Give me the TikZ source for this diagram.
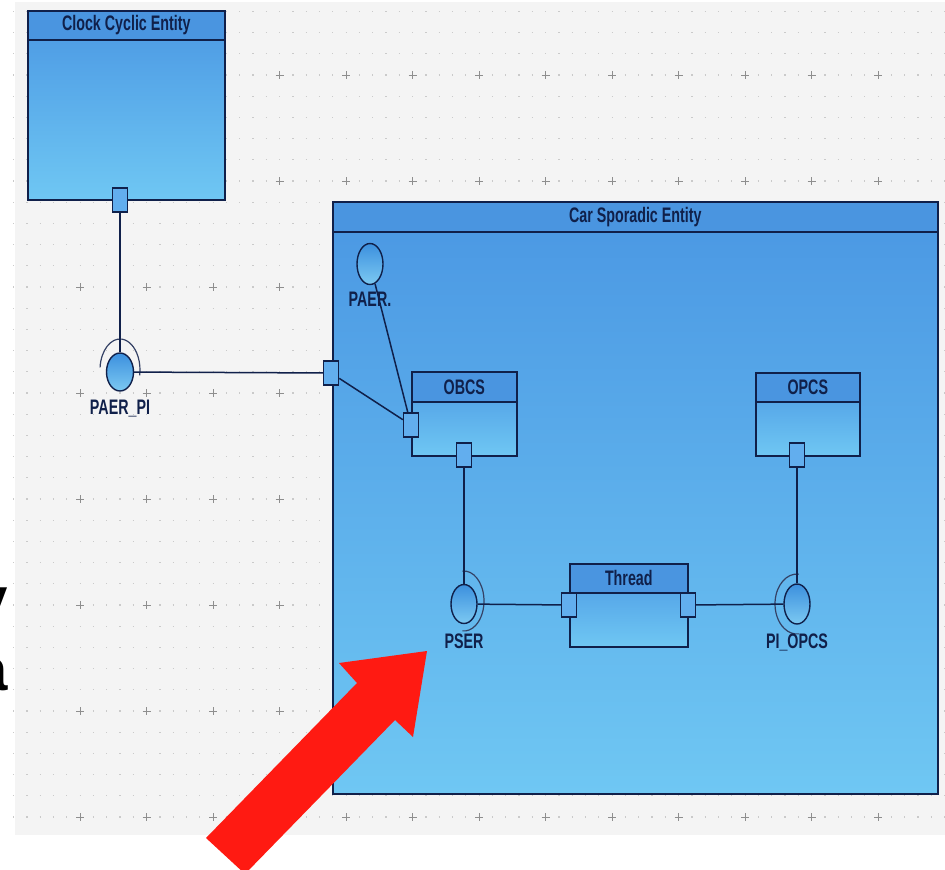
\documentclass[tikz,border=0pt]{standalone}
\usepackage{fontspec}
\setmainfont{Liberation Sans}
\newfontfamily\umlfont[FakeStretch=0.68]{Liberation Sans}
\usepackage{xcolor}
\usetikzlibrary{shapes.geometric,positioning}

\definecolor{gridbg}{HTML}{F4F4F4}
\definecolor{griddot}{HTML}{CACACA}
\definecolor{gridcross}{HTML}{8E8E8E}
\definecolor{umlline}{HTML}{10204A}
\definecolor{umlhead}{HTML}{4A95E0}
\definecolor{umltop}{HTML}{4A97E3}
\definecolor{umlbottom}{HTML}{6FC7F3}
\definecolor{portfill}{HTML}{62AEEE}
\definecolor{ifacetop}{HTML}{3C90DE}
\definecolor{ifacebottom}{HTML}{7CC9F2}
\definecolor{markred}{HTML}{FF1A12}

\begin{document}
\begin{tikzpicture}[x=1pt, y=-1pt,
    entity/.style={rectangle, draw=umlline, line width=1.6pt, top color=umltop, bottom color=umlbottom, inner sep=0pt},
    header/.style={rectangle, draw=umlline, line width=1.6pt, fill=umlhead, inner sep=0pt, font=\umlfont\bfseries\fontsize{21}{21}\selectfont, text=umlline},
    port/.style={rectangle, draw=umlline, line width=1.4pt, fill=portfill, minimum width=15pt, minimum height=24pt, inner sep=0pt},
    iface/.style={ellipse, draw=umlline, line width=1.4pt, top color=ifacetop, bottom color=ifacebottom, minimum width=26pt, minimum height=39pt, inner sep=0pt},
    lbl/.style={font=\umlfont\bfseries\fontsize{21}{21}\selectfont, text=umlline, inner sep=0pt},
    socket/.style={draw=umlline!85, line width=1.2pt},
    link/.style={draw=umlline, line width=1.5pt}
]
\useasboundingbox (0,0) rectangle (945,870);
\clip (0,0) rectangle (945,870);
\fill[white] (0,0) rectangle (945,870);

\fill[gridbg] (15,2) rectangle (945,835);
\foreach \r in {0,...,38}
    \draw[griddot, line width=1.2pt, dash pattern=on 1.2pt off 12.1pt] (13,{11.4+21.2*\r}) -- (945,{11.4+21.2*\r});
\foreach \r in {3,8,...,38}
    \foreach \c in {1,...,13}
        \draw[gridcross, line width=0.6pt] ({13.5+66.5*\c},{11.4+21.2*\r}) +(-4,0) -- +(4,0) +(0,-4) -- +(0,4);

\node[anchor=base east, inner sep=0pt, font=\bfseries\fontsize{60}{60}\selectfont] (lettery) at (8,619) {y};
\node[anchor=base east, inner sep=0pt, font=\bfseries\fontsize{60}{60}\selectfont] (lettera) at (8,690) {a};

\node[entity, anchor=north west, minimum width=197pt, minimum height=189pt] (clock) at (27,10) {};
\node[header, anchor=north, minimum width=197pt, minimum height=29pt] (clockhead) at (clock.north) {Clock Cyclic Entity};

\node[entity, anchor=north west, minimum width=605pt, minimum height=592pt] (car) at (332,201) {};
\node[header, anchor=north, minimum width=605pt, minimum height=30pt] (carhead) at (car.north) {Car Sporadic Entity};

\node[entity, anchor=north west, minimum width=105pt, minimum height=84pt] (obcs) at (411,371) {};
\node[header, anchor=north, minimum width=105pt, minimum height=30pt] (obcshead) at (obcs.north) {OBCS};

\node[entity, anchor=north west, minimum width=104pt, minimum height=83pt] (opcs) at (755,372) {};
\node[header, anchor=north, minimum width=104pt, minimum height=29pt] (opcshead) at (opcs.north) {OPCS};

\node[entity, anchor=north west, minimum width=118pt, minimum height=83pt] (thread) at (569,563) {};
\node[header, anchor=north, minimum width=118pt, minimum height=29pt] (threadhead) at (thread.north) {Thread};

\node[port] (clockp) at (120,200) {};
\node[port] (carp) at (331,373) {};
\node[port] (obcsl) at (411,425) {};
\node[port] (obcsb) at (464,455) {};
\node[port] (opcsb) at (797,455) {};
\node[port] (thrl) at (569,605) {};
\node[port] (thrr) at (688,605) {};

\node[iface, minimum width=27pt, minimum height=38pt] (paerpi) at (120,372) {};
\node[iface, minimum height=41pt] (paer) at (370,264) {};
\node[iface] (pser) at (464,604) {};
\node[iface, minimum height=40pt] (piopcs) at (797,604) {};

\draw[socket] ([yshift=2pt]paerpi.center) ++(175:20pt and 31pt) arc[start angle=175, end angle=-10, x radius=20pt, y radius=31pt];
\draw[socket] ([yshift=3pt]pser.center) ++(95:20pt and 30pt) arc[start angle=95, end angle=-95, x radius=20pt, y radius=30pt];
\draw[socket] (piopcs.center) ++(85:22pt and 30pt) arc[start angle=85, end angle=275, x radius=22pt, y radius=30pt];

\draw[link] (clockp) -- (paerpi);
\draw[link] (paerpi) -- (carp);
\draw[link] (carp) -- (obcsl);
\draw[link] (paer) -- (obcsl);
\draw[link] (obcsb) -- (pser);
\draw[link] (pser) -- (thrl);
\draw[link] (thrr) -- (piopcs);
\draw[link] (opcsb) -- (piopcs);

\node[lbl, below=8pt of paerpi] (paerpilbl) {PAER\_PI};
\node[lbl, below=7pt of paer] (paerlbl) {PAER.};
\node[lbl, below=9pt of pser] (pserlbl) {PSER};
\node[lbl, below=9pt of piopcs] (piopcslbl) {PI\_OPCS};

\fill[markred] (206,838) -- (357,683) -- (339,663) -- (427,651) -- (413,737) -- (395,720) -- (245,874) -- cycle;
\end{tikzpicture}
\end{document}
